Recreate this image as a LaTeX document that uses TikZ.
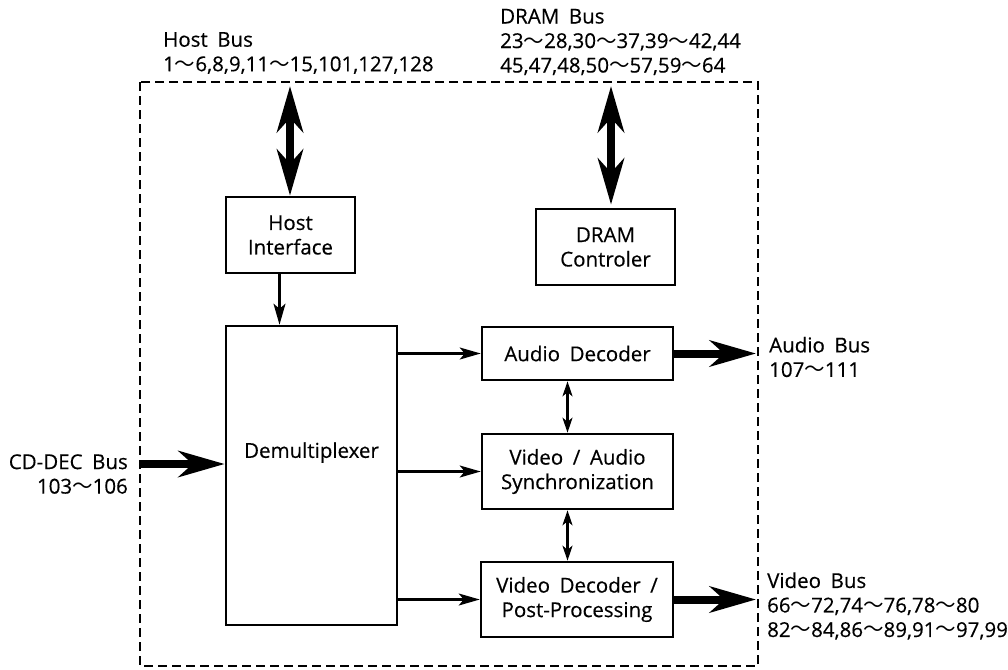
\documentclass[tikz,border=0pt]{standalone}
\usepackage{fontspec}
\setmainfont{Open Sans}[WordSpace=1.8, FakeBold=0.4]
\newfontfamily\cjk{Noto Sans CJK JP}
\newcommand{\wv}{{\cjk 〜}}
\usetikzlibrary{positioning,arrows.meta}

\begin{document}
\begin{tikzpicture}[
    x=1pt, y=-1pt,
    every node/.style={font=\fontsize{20.5}{24.5}\selectfont, align=center, inner sep=0pt},
    blk/.style={rectangle, draw=black, line width=2.6pt},
    arr/.style={-{Stealth[length=21pt, width=12pt, inset=5pt]}, line width=2.1pt},
    darr/.style={{Stealth[length=15pt, width=10pt, inset=4pt]}-{Stealth[length=15pt, width=10pt, inset=4pt]}, line width=2.1pt},
    bus/.style={-{Stealth[length=46pt, width=26pt, inset=14pt]}, line width=8pt},
    dbus/.style={{Stealth[length=46pt, width=26pt, inset=14pt]}-{Stealth[length=46pt, width=26pt, inset=14pt]}, line width=8pt}
]
\useasboundingbox (0,0) rectangle (1008,669);

% Chip outline
\draw[line width=2.6pt, dash pattern=on 9pt off 5pt] (140,82) rectangle (758,666);

% Blocks
\node[blk, minimum width=129, minimum height=76] (host) at (290.5,235) {Host\\Interface};
\node[blk, minimum width=139, minimum height=76] (dram) at (605.5,247) {DRAM\\Controler};
\node[blk, minimum width=171, minimum height=299, label={[yshift=23pt]center:Demultiplexer}] (demux) at (311.5,475.5) {};
\node[blk, minimum width=191, minimum height=53] (audio) at (577.5,353.5) {Audio Decoder};
\node[blk, minimum width=191, minimum height=75] (sync) at (577.5,471.5) {Video / Audio\\Synchronization};
\node[blk, minimum width=192, minimum height=75] (video) at (577,599.5) {Video Decoder /\\Post-Processing};

% Bus labels
\node[anchor=west, align=left] (hostlbl) at (163,53) {Host Bus\\1\wv6,8,9,11\wv15,101,127,128};
\node[anchor=west, align=left] (dramlbl) at (500,42) {DRAM Bus\\23\wv28,30\wv37,39\wv42,44\\45,47,48,50\wv57,59\wv64};
\node[anchor=east, align=right] (cdlbl) at (128,474) {CD-DEC Bus\\103\wv106};
\node[anchor=west, align=left] (audiolbl) at (769,357) {Audio Bus\\107\wv111};
\node[anchor=west, align=left] (videolbl) at (767,606) {Video Bus\\66\wv72,74\wv76,78\wv80\\82\wv84,86\wv89,91\wv97,99};

% Bus ends
\coordinate (hosttop) at (290,86);
\coordinate (dramtop) at (611,86);
\coordinate (cdin) at (140,464);
\coordinate (audioout) at (756,353.5);
\coordinate (videoout) at (756,599.5);

% Busses
\draw[dbus] (hosttop) -- (hosttop |- host.north);
\draw[dbus] (dramtop) -- ([yshift=3pt]dramtop |- dram.north);
\draw[bus] (cdin) -- (cdin -| demux.west);
\draw[bus] (audio.east) -- (audioout);
\draw[bus] (video.east) -- (videoout);

% Internal connections
\draw[arr] ([xshift=-11pt]host.south) -- ([xshift=-11pt]host.south |- demux.north);
\draw[arr] (demux.east |- audio.west) -- (audio.west);
\draw[arr] (demux.east |- sync.west) -- (sync.west);
\draw[arr] (demux.east |- video.west) -- (video.west);
\draw[darr] ([xshift=-10pt]audio.south) -- ([xshift=-10pt]audio.south |- sync.north);
\draw[darr] ([xshift=-10pt]sync.south) -- ([xshift=-10pt]sync.south |- video.north);
\end{tikzpicture}
\end{document}
